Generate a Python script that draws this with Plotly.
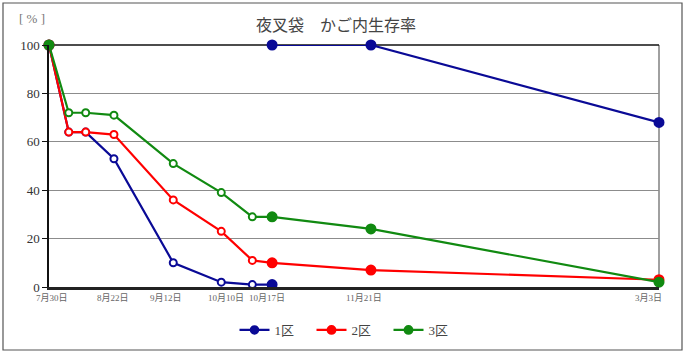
import plotly.graph_objects as go

# ---- data ----
dates = ["2009-07-30", "2009-08-06", "2009-08-12", "2009-08-22", "2009-09-12",
         "2009-09-29", "2009-10-10", "2009-10-17", "2009-11-21", "2010-03-03"]
filled = [True, False, False, False, False, False, False, True, True, True]

blue1_dates = dates[:8]
blue1_vals = [100, 64, 64, 53, 10, 2, 1, 1]
blue1_filled = filled[:8]
blue2_dates = ["2009-10-17", "2009-11-21", "2010-03-03"]
blue2_vals = [100, 100, 68]
blue2_filled = [True, True, True]
red_vals = [100, 64, 64, 63, 36, 23, 11, 10, 7, 3]
green_vals = [100, 72, 72, 71, 51, 39, 29, 29, 24, 2]

tick_dates = ["2009-07-30", "2009-08-22", "2009-09-12", "2009-10-10",
              "2009-10-17", "2009-11-21", "2010-03-03"]
tick_text = ["7月30日", "8月22日", "9月12日", "10月10日",
             "10月17日", "11月21日", "3月3日"]
series_names = ["1区", "2区", "3区"]
colors = ["#0a0a96", "#ff0000", "#118a11"]

# label pixel nudges (style only)
tick_shift = [3, -1, -7, -26, -5, -7, -11]

W, H = 689, 356
ML, MR, MT, MB = 49, 30, 45, 69
PW, PH = W - ML - MR, H - MT - MB

FONT = "Liberation Serif, Noto Sans CJK JP, serif"


def marker(col, fl):
    return dict(
        symbol="circle",
        size=[9 if f else 7 for f in fl],
        color=[col if f else "white" for f in fl],
        line=dict(color=col, width=2),
        opacity=1,
    )


fig = go.Figure()
fig.add_trace(go.Scatter(x=blue1_dates, y=blue1_vals, mode="lines+markers",
                         name=series_names[0], legendgroup="b",
                         line=dict(color=colors[0], width=2.2),
                         marker=marker(colors[0], blue1_filled), cliponaxis=False))
fig.add_trace(go.Scatter(x=blue2_dates, y=blue2_vals, mode="lines+markers",
                         name=series_names[0], legendgroup="b", showlegend=False,
                         line=dict(color=colors[0], width=2.2),
                         marker=marker(colors[0], blue2_filled), cliponaxis=False))
fig.add_trace(go.Scatter(x=dates, y=red_vals, mode="lines+markers",
                         name=series_names[1],
                         line=dict(color=colors[1], width=2.2),
                         marker=marker(colors[1], filled), cliponaxis=False))
fig.add_trace(go.Scatter(x=dates, y=green_vals, mode="lines+markers",
                         name=series_names[2],
                         line=dict(color=colors[2], width=2.2),
                         marker=marker(colors[2], filled), cliponaxis=False))


def px_to_paper_x(px):
    return (px - ML) / PW


def px_to_paper_y(py):
    return (H - MB - py) / PH


shapes = [
    dict(type="line", xref="paper", yref="paper", x0=1, x1=1, y0=0, y1=1,
         line=dict(color="#808080", width=1.5), layer="below"),
    dict(type="line", xref="paper", yref="paper", x0=0, x1=1, y0=1, y1=1,
         line=dict(color="#111111", width=1.5), layer="below"),
    dict(type="rect", xref="paper", yref="paper",
         x0=px_to_paper_x(3), x1=px_to_paper_x(682),
         y0=px_to_paper_y(350), y1=px_to_paper_y(3),
         line=dict(color="#555555", width=1.2), layer="below"),
]

annotations = [
    dict(text="夜叉袋　かご内生存率", xref="paper", yref="paper",
         x=px_to_paper_x(336), y=px_to_paper_y(25), xanchor="center",
         yanchor="middle", showarrow=False,
         font=dict(size=16, color="#444444")),
    dict(text="[ % ]", xref="paper", yref="paper",
         x=px_to_paper_x(32), y=px_to_paper_y(19), xanchor="center",
         yanchor="middle", showarrow=False,
         font=dict(size=13, color="#777777")),
]
for d, t, s in zip(tick_dates, tick_text, tick_shift):
    annotations.append(dict(text=t, x=d, xref="x", yref="paper",
                            y=px_to_paper_y(298), xanchor="center",
                            yanchor="middle", xshift=s, showarrow=False,
                            font=dict(size=9, color="#666666")))

fig.update_layout(
    width=W, height=H,
    margin=dict(l=ML, r=MR, t=MT, b=MB, autoexpand=False),
    paper_bgcolor="white", plot_bgcolor="white",
    font=dict(family=FONT, color="#333333", size=12),
    showlegend=True,
    legend=dict(orientation="h", x=px_to_paper_x(350), xanchor="center",
                y=px_to_paper_y(330), yanchor="middle",
                font=dict(size=13, color="#444444"),
                entrywidth=32, entrywidthmode="pixels",
                itemwidth=30, tracegroupgap=0),
    shapes=shapes,
    annotations=annotations,
    xaxis=dict(type="date", range=["2009-07-30", "2010-03-03"],
               showticklabels=False,
               showgrid=False, zeroline=False, automargin=False,
               showline=True, linecolor="#222222", linewidth=2.5,
               ticks=""),
    yaxis=dict(range=[0, 100], tickvals=[0, 20, 40, 60, 80, 100],
               showgrid=True, gridcolor="#8c8c8c", gridwidth=1.2,
               zeroline=False, showline=True, linecolor="#111111", linewidth=1.5,
               ticks="outside", ticklen=5, tickcolor="#111111", automargin=False,
               tickfont=dict(size=13, color="#333333")),
)

fig.write_html("out.html", config={"displayModeBar": False},
               post_script="document.body.style.margin='0';")
